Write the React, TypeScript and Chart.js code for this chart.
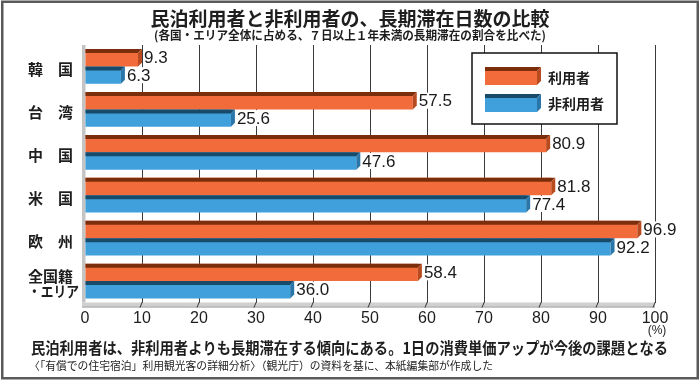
import React, { useEffect, useRef } from 'react';
import { Chart, registerables } from 'chart.js';
Chart.register(...registerables);

const categories: (string | string[])[] = ['韓　国', '台　湾', '中　国', '米　国', '欧　州', ['全国籍', '・エリア']];
const seriesNames = ['利用者', '非利用者'];
const usersValues = [9.3, 57.5, 80.9, 81.8, 96.9, 58.4];
const nonUsersValues = [6.3, 25.6, 47.6, 77.4, 92.2, 36.0];
const xTickValues = [0, 10, 20, 30, 40, 50, 60, 70, 80, 90, 100];

const titleText = '民泊利用者と非利用者の、長期滞在日数の比較';
const subtitleText = '(各国・エリア全体に占める、７日以上１年未満の長期滞在の割合を比べた)';
const unitText = '(%)';
const noteText = '民泊利用者は、非利用者よりも長期滞在する傾向にある。1日の消費単価アップが今後の課題となる';
const sourceText = '〈「有償での住宅宿泊」利用観光客の詳細分析〉（観光庁）の資料を基に、本紙編集部が作成した';

const JP = '"Noto Sans CJK JP", sans-serif';
const NUM = '"Liberation Sans", Arial, sans-serif';

const COLORS = [
  { front: '#F26B3A', top: '#7A2E0C', side: '#B84A20' },
  { front: '#3FA0DC', top: '#184A6A', side: '#2A76A8' },
];
const D = 4;

function drawTopSide(ctx: CanvasRenderingContext2D, base: number, x: number, top: number, bottom: number, c: any) {
  ctx.fillStyle = c.top;
  ctx.beginPath();
  ctx.moveTo(base, top);
  ctx.lineTo(x + D, top);
  ctx.lineTo(x, top + D);
  ctx.lineTo(base, top + D);
  ctx.closePath();
  ctx.fill();
  ctx.fillStyle = c.side;
  ctx.beginPath();
  ctx.moveTo(x, top + D);
  ctx.lineTo(x + D, top);
  ctx.lineTo(x + D, bottom - D);
  ctx.lineTo(x, bottom);
  ctx.closePath();
  ctx.fill();
}

const decoPlugin = {
  id: 'deco',
  beforeDraw(chart: any) {
    const ctx: CanvasRenderingContext2D = chart.ctx;
    ctx.save();
    ctx.fillStyle = '#ffffff';
    ctx.fillRect(0, 0, chart.width, chart.height);
    ctx.strokeStyle = '#5a5a5a';
    ctx.lineWidth = 2.5;
    ctx.strokeRect(2.25, 1.75, 695.5, 376.5);
    ctx.fillStyle = '#1e1e1e';
    ctx.textAlign = 'center';
    ctx.textBaseline = 'middle';
    ctx.font = `bold 19px ${JP}`;
    ctx.fillText(titleText, 350, 19);
    ctx.font = `bold 12px ${JP}`;
    ctx.fillText(subtitleText, 350, 35, 392);
    ctx.textAlign = 'left';
    ctx.font = `bold 16px ${JP}`;
    ctx.fillText(noteText, 31, 348, 637);
    ctx.font = `11px ${JP}`;
    ctx.fillText(sourceText, 29, 366, 464);
    ctx.textAlign = 'center';
    ctx.font = `12px ${NUM}`;
    ctx.fillText(unitText, 657, 331);
    // category labels from the y scale
    const ys = chart.scales.y;
    ctx.textAlign = 'left';
    ctx.font = `bold 15px ${JP}`;
    (chart.data.labels as any[]).forEach((lab: any, i: number) => {
      const cy = ys.getPixelForTick(i) + 3;
      const lines = Array.isArray(lab) ? lab : [lab];
      const lh = 14.5;
      lines.forEach((ln: string, k: number) => {
        const y = cy + (k - (lines.length - 1) / 2) * lh;
        ctx.fillText(ln, 28, y, ln.length >= 4 ? 51 : 48);
      });
    });
    ctx.restore();
  },
  beforeDatasetsDraw(chart: any) {
    const ctx: CanvasRenderingContext2D = chart.ctx;
    const a = chart.chartArea;
    const xs = chart.scales.x;
    ctx.save();
    ctx.fillStyle = '#c4c4c4';
    ctx.fillRect(a.left - 3, a.top, 3.5, a.bottom - a.top);
    ctx.fillStyle = '#d0d0d0';
    ctx.fillRect(a.left - 3, a.bottom, a.right - a.left + 3, 5);
    ctx.fillStyle = '#a8a8a8';
    ctx.fillRect(a.left - 3, a.bottom + 4, a.right - a.left + 3, 1);
    ctx.strokeStyle = '#333';
    ctx.lineWidth = 1;
    xTickValues.forEach((v, i) => {
      if (i === 0) return;
      const gx = Math.round(xs.getPixelForValue(v)) + 0.5;
      ctx.beginPath();
      ctx.moveTo(gx, a.bottom - 1);
      ctx.lineTo(gx - 2.5, a.bottom + 5);
      ctx.stroke();
    });
    ctx.restore();
  },
  afterDatasetsDraw(chart: any) {
    const ctx: CanvasRenderingContext2D = chart.ctx;
    ctx.save();
    chart.data.datasets.forEach((ds: any, di: number) => {
      const meta = chart.getDatasetMeta(di);
      meta.data.forEach((el: any, i: number) => {
        const p = el.getProps(['x', 'y', 'base', 'height'], true);
        const top = p.y - p.height / 2;
        const bottom = p.y + p.height / 2;
        drawTopSide(ctx, p.base, p.x, top, bottom, COLORS[di]);
        const txt = ds.data[i].toFixed(1);
        ctx.font = `17px ${NUM}`;
        const w = ctx.measureText(txt).width;
        const lx = p.x + D + 2;
        ctx.fillStyle = '#ffffff';
        ctx.fillRect(lx - 1, p.y - 8, w + 2, 16);
        ctx.fillStyle = '#1a1a1a';
        ctx.textAlign = 'left';
        ctx.textBaseline = 'middle';
        ctx.fillText(txt, lx, p.y + 1);
      });
    });
    ctx.fillStyle = '#ffffff';
    ctx.fillRect(472, 53, 145, 71);
    ctx.strokeStyle = '#111';
    ctx.lineWidth = 1.5;
    ctx.strokeRect(472, 53, 145, 71);
    const rows = [[67, 85, 78], [94, 112, 104]];
    chart.data.datasets.forEach((ds: any, di: number) => {
      const [t, b, ty] = rows[di];
      const c = COLORS[di];
      ctx.fillStyle = c.front;
      ctx.fillRect(485, t + D, 52, b - t - D);
      drawTopSide(ctx, 485, 537, t, b, c);
      ctx.fillStyle = '#1e1e1e';
      ctx.font = `bold 14px ${JP}`;
      ctx.textAlign = 'left';
      ctx.textBaseline = 'middle';
      ctx.fillText(ds.label, 548, ty);
    });
    ctx.restore();
  },
};

export default function App() {
  const ref = useRef<HTMLCanvasElement>(null);
  useEffect(() => {
    document.body.style.margin = '0';
    const chart = new Chart(ref.current as HTMLCanvasElement, {
      type: 'bar',
      data: {
        labels: categories as any,
        datasets: [
          { label: seriesNames[0], data: usersValues, backgroundColor: COLORS[0].front, borderWidth: 0 },
          { label: seriesNames[1], data: nonUsersValues, backgroundColor: COLORS[1].front, borderWidth: 0 },
        ],
      },
      options: {
        indexAxis: 'y',
        responsive: false,
        animation: false,
        devicePixelRatio: 1,
        layout: { padding: { left: 28, right: 45, top: 45, bottom: 49.5 } },
        datasets: { bar: { categoryPercentage: 0.81, barPercentage: 1.0 } },
        plugins: { legend: { display: false }, tooltip: { enabled: false }, title: { display: false } },
        scales: {
          x: {
            min: 0,
            max: 100,
            afterBuildTicks: (scale: any) => {
              scale.ticks = xTickValues.map((v) => ({ value: v }));
            },
            afterFit: (scale: any) => {
              scale.height = 30;
            },
            grid: {
              color: (c: any) => (c.index === 0 ? 'rgba(0,0,0,0)' : '#3a3a3a'),
              lineWidth: 1,
              drawTicks: false,
            },
            border: { display: false },
            ticks: {
              padding: 6,
              color: '#1e1e1e',
              font: { family: NUM, size: 16 },
              maxRotation: 0,
            },
          },
          y: {
            afterFit: (scale: any) => {
              scale.width = 57;
            },
            grid: { display: false, drawTicks: false },
            border: { display: false },
            ticks: { display: false },
          },
        },
      },
      plugins: [decoPlugin],
    } as any);
    return () => chart.destroy();
  }, []);
  return (
    <div style={{ width: 700, height: 382 }}>
      <canvas ref={ref} width={700} height={382} style={{ display: 'block' }} />
    </div>
  );
}
